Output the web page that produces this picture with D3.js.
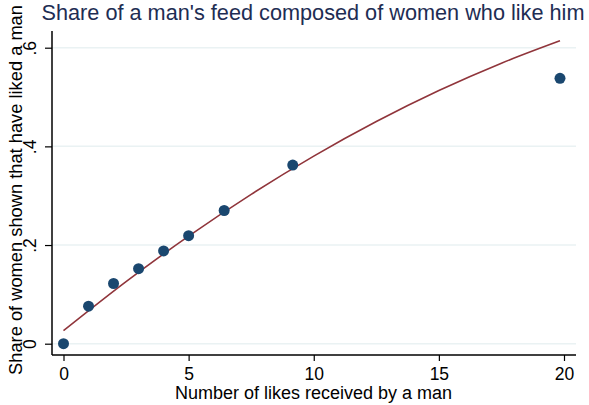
<!DOCTYPE html>
<html>
<head>
<meta charset="utf-8">
<script src="https://cdn.jsdelivr.net/npm/d3@7"></script>
<style>
  html, body { margin: 0; padding: 0; background: #fff; }
  svg { display: block; font-family: "Liberation Sans", Arial, sans-serif; }
</style>
</head>
<body>
<svg id="chart" width="589" height="405"></svg>
<script>
// Binned averages: likes received vs. share of feed made of women who liked him
const likes = [0, 1, 2, 3, 4, 5, 6.42, 9.16, 19.84];
const share = [0, 0.076, 0.122, 0.152, 0.188, 0.219, 0.27, 0.362, 0.538];

// Quadratic fit line, sampled along the x range
const fitX = [0, 2.5, 5, 7.5, 10, 12.5, 15, 17.5, 19.84];
const fitY = [0.0264, 0.1258, 0.218, 0.3027, 0.3802, 0.4503, 0.5131, 0.5686, 0.614];

const xTicks = [0, 5, 10, 15, 20];
const yTicks = [0, 0.2, 0.4, 0.6];
const yTickLabels = ["0", ".2", ".4", ".6"];

const svg = d3.select("#chart");

const x = d3.scaleLinear().domain([0, 20]).range([63.5, 564]);
const y = d3.scaleLinear().domain([0, 0.6]).range([343.7, 47.7]);

const plotLeft = 52, plotRight = 576, plotBottom = 355, plotTop = 31;
const font = "Liberation Sans, Arial, sans-serif";

// Horizontal grid lines
svg.append("g").selectAll("line").data(yTicks).join("line")
  .attr("x1", plotLeft).attr("x2", plotRight)
  .attr("y1", d => y(d)).attr("y2", d => y(d))
  .attr("stroke", "#eaf2f3").attr("stroke-width", 1.5);

// X axis
const xAxis = svg.append("g")
  .attr("transform", `translate(0,${plotBottom})`)
  .call(d3.axisBottom(x).tickValues(xTicks).tickFormat(d3.format("d")).tickSize(6).tickSizeOuter(0));
xAxis.select(".domain").remove();
xAxis.append("line").attr("x1", plotLeft).attr("x2", plotRight).attr("stroke", "#000").attr("stroke-width", 1.5);
xAxis.selectAll(".tick line").attr("stroke", "#000").attr("stroke-width", 1.2);
xAxis.selectAll(".tick text")
  .attr("font-size", 17.5).attr("fill", "#000").attr("font-family", font)
  .attr("dy", null).attr("y", 24.5);

// Y axis
const yAxis = svg.append("g")
  .attr("transform", `translate(${plotLeft},0)`)
  .call(d3.axisLeft(y).tickValues(yTicks).tickFormat((d, i) => yTickLabels[i]).tickSize(7).tickSizeOuter(0));
yAxis.select(".domain").remove();
yAxis.append("line").attr("y1", plotTop).attr("y2", plotBottom).attr("stroke", "#000").attr("stroke-width", 1.5);
yAxis.selectAll(".tick line").attr("stroke", "#000").attr("stroke-width", 1.2);
yAxis.selectAll(".tick text")
  .attr("font-size", 17.5).attr("fill", "#000").attr("font-family", font)
  .attr("x", null).attr("dy", null)
  .attr("text-anchor", "middle")
  .attr("transform", "translate(-16,0) rotate(-90)")
  .attr("y", 0);

// Fit line
const line = d3.line().x(d => x(d[0])).y(d => y(d[1])).curve(d3.curveMonotoneX);
svg.append("path")
  .datum(fitX.map((v, i) => [v, fitY[i]]))
  .attr("d", line)
  .attr("fill", "none")
  .attr("stroke", "#90353b")
  .attr("stroke-width", 1.6);

// Scatter points
svg.append("g").selectAll("circle").data(likes.map((v, i) => [v, share[i]])).join("circle")
  .attr("cx", d => x(d[0])).attr("cy", d => y(d[1]))
  .attr("r", 5.5)
  .attr("fill", "#1a476f");

// Titles
svg.append("text")
  .attr("x", 41.5).attr("y", 19.5)
  .attr("text-anchor", "start")
  .attr("font-size", 21.7)
  .attr("fill", "#1e2d53")
  .text("Share of a man's feed composed of women who like him");

svg.append("text")
  .attr("x", 313.5).attr("y", 398.5)
  .attr("text-anchor", "middle")
  .attr("font-size", 18)
  .attr("fill", "#000")
  .text("Number of likes received by a man");

svg.append("text")
  .attr("transform", "translate(21.5,190) rotate(-90)")
  .attr("text-anchor", "middle")
  .attr("font-size", 18.3)
  .attr("fill", "#000")
  .text("Share of women shown that have liked a man");
</script>
</body>
</html>
